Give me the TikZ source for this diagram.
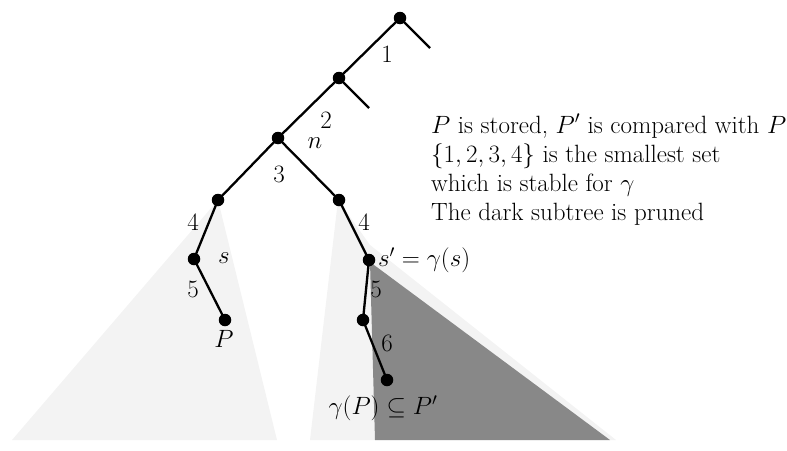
\RequirePackage{fix-cm}
\documentclass[tikz,border=0pt]{standalone}
\definecolor{lightfill}{RGB}{243,243,243}
\definecolor{darkfill}{RGB}{136,136,136}
\begin{document}
\begin{tikzpicture}[x=1pt,y=-1pt,
  dot/.style={circle,fill=black,inner sep=0pt,minimum size=12.5pt},
  edge/.style={line width=2.3pt},
  lbl/.style={inner sep=0pt,font=\fontsize{25}{30}\selectfont},
  txt/.style={inner sep=0pt,anchor=base west,font=\fontsize{25}{30}\selectfont}]
\useasboundingbox (0,0) rectangle (787,450);
% shaded subtrees
\fill[lightfill] (218,200) -- (12,440) -- (277,440) -- cycle;
\fill[lightfill] (338,200) -- (310,440) -- (616,440) -- (370,245) -- cycle;
\fill[darkfill] (370,262) -- (375,440) -- (610,440) -- cycle;
% tree nodes
\node[dot] (r) at (400,18) {};
\coordinate (r1) at (430,48);
\node[dot] (a) at (339,78) {};
\coordinate (a1) at (369,108);
\node[dot] (n) at (278,138) {};
\node[dot] (l4) at (218,200) {};
\node[dot] (s) at (194,259) {};
\node[dot] (p) at (225,320) {};
\node[dot] (r4) at (339,200) {};
\node[dot] (sp) at (369,260) {};
\node[dot] (r6) at (363,320) {};
\node[dot] (gp) at (387,380) {};
% edges
\draw[edge] (r.center) -- (r1);
\draw[edge] (r.center) -- (a.center);
\draw[edge] (a.center) -- (a1);
\draw[edge] (a.center) -- (n.center);
\draw[edge] (n.center) -- (l4.center);
\draw[edge] (n.center) -- (r4.center);
\draw[edge] (l4.center) -- (s.center);
\draw[edge] (s.center) -- (p.center);
\draw[edge] (r4.center) -- (sp.center);
\draw[edge] (sp.center) -- (r6.center);
\draw[edge] (r6.center) -- (gp.center);
% labels
\node[lbl] (t1) at (387,54) {1};
\node[lbl] (t2) at (326,120) {2};
\node[lbl] (tn) at (315,143) {$n$};
\node[lbl] (t3) at (279,174) {3};
\node[lbl] (t4l) at (193,222) {4};
\node[lbl] (ts) at (224,258) {$s$};
\node[lbl] (t5l) at (193,289) {5};
\node[lbl] (tP) at (224,339) {$P$};
\node[lbl] (t4r) at (364,222) {4};
\node[lbl,anchor=west] (tsp) at (378,260) {$s' = \gamma(s)$};
\node[lbl] (t5r) at (376,289) {5};
\node[lbl] (t6) at (387,343) {6};
\node[lbl] (tgp) at (383,408) {$\gamma(P)\subseteq P'$};
% text
\node[txt] (l1) at (431,133) {$P$ is stored, $P'$ is compared with $P$};
\node[txt] (l2) at (431,162) {$\{1,2,3,4\}$ is the smallest set};
\node[txt] (l3) at (431,191) {which is stable for $\gamma$};
\node[txt] (l4t) at (431,220) {The dark subtree is pruned};
\end{tikzpicture}
\end{document}
